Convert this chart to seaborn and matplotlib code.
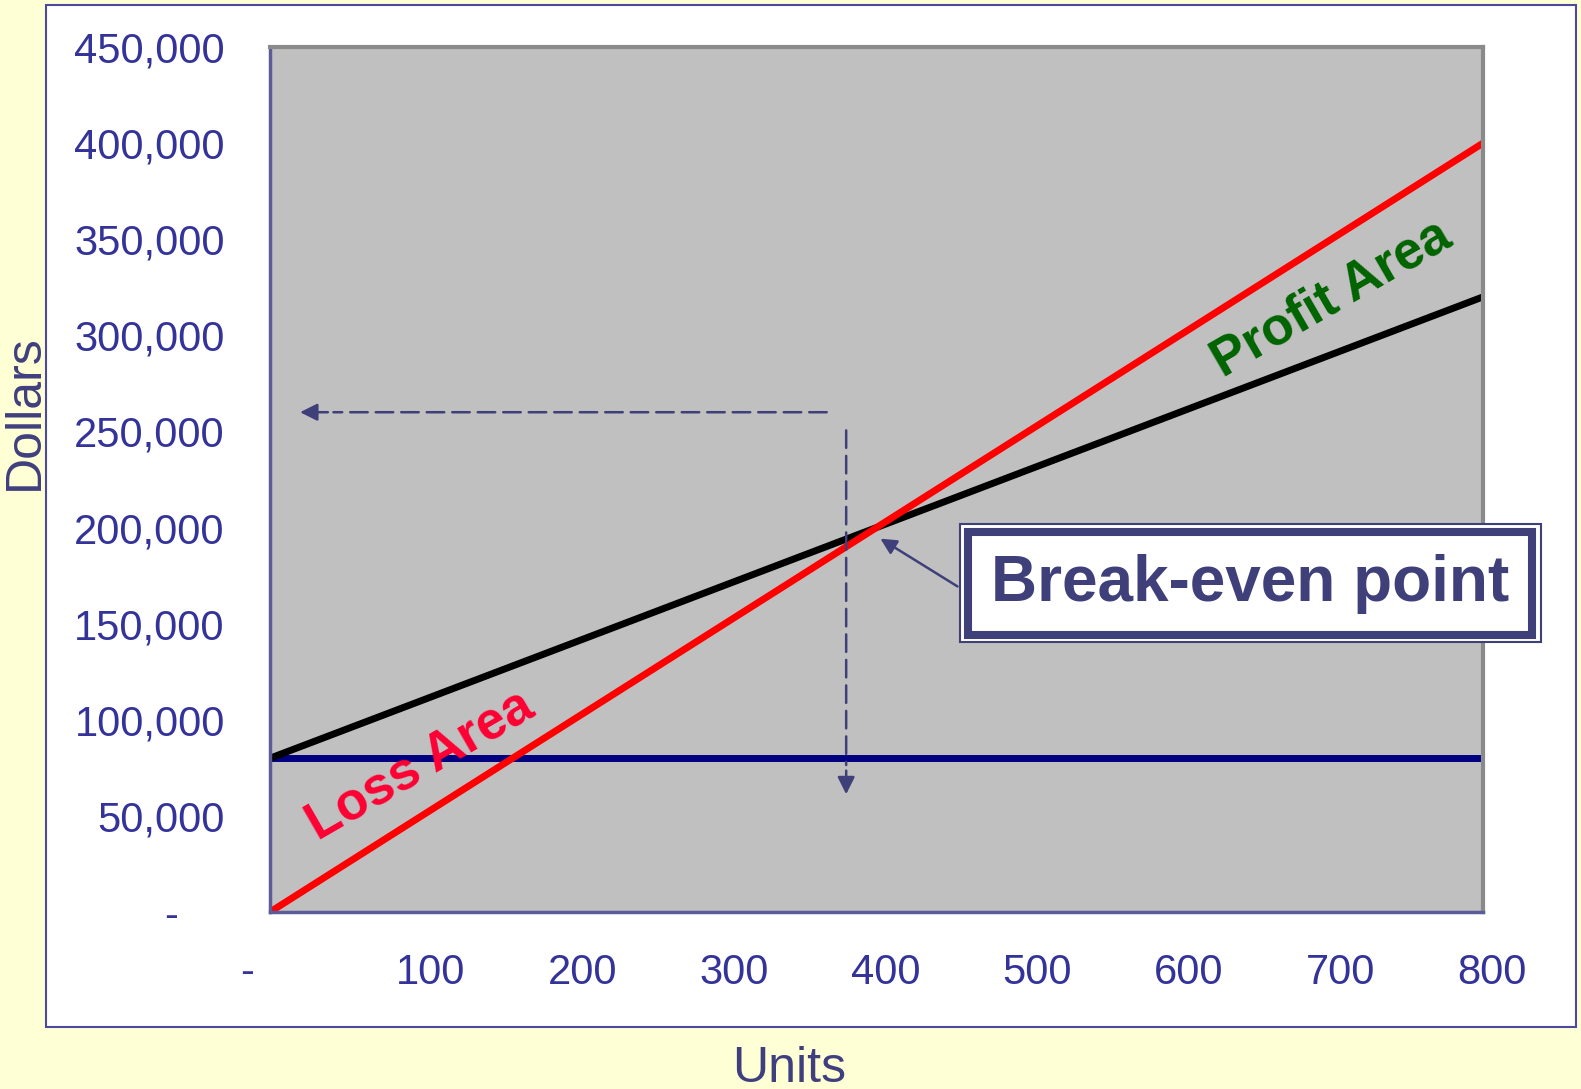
import matplotlib
matplotlib.use("Agg")
import matplotlib.pyplot as plt
import matplotlib.transforms as mtransforms
from matplotlib.patches import Rectangle
import pandas as pd
import seaborn as sns

# --- data ---
units = [0, 100, 200, 300, 400, 500, 600, 700, 800]
fixed_cost = [80000, 80000, 80000, 80000, 80000, 80000, 80000, 80000, 80000]
total_cost = [80000, 110000, 140000, 170000, 200000, 230000, 260000, 290000, 320000]
revenue = [0, 50000, 100000, 150000, 200000, 250000, 300000, 350000, 400000]

x_ticks = [0, 100, 200, 300, 400, 500, 600, 700, 800]
x_ticklabels = ["-", "100", "200", "300", "400", "500", "600", "700", "800"]
y_ticks = [0, 50000, 100000, 150000, 200000, 250000, 300000, 350000, 400000, 450000]
y_ticklabels = ["-", "50,000", "100,000", "150,000", "200,000", "250,000",
                "300,000", "350,000", "400,000", "450,000"]

df = pd.DataFrame({"Units": units, "Fixed": fixed_cost,
                   "Total": total_cost, "Revenue": revenue})

# --- style ---
sns.set_style("white")
plt.rcParams["font.family"] = ["Liberation Sans", "DejaVu Sans"]

tick_col = "#333399"
label_col = "#3F3F7F"
ann_col = "#3F3F7A"

fig = plt.figure(figsize=(15.81, 10.89), dpi=100, facecolor="#FFFFD6")

# white chart box
fig.add_artist(Rectangle((46 / 1581, 1 - 1027 / 1089), 1530 / 1581, 1022 / 1089,
                         transform=fig.transFigure, facecolor="white",
                         edgecolor="#4A4AA0", linewidth=1.5, zorder=0))

ax = fig.add_axes([270 / 1581, 1 - 912 / 1089, 1213 / 1581, 865 / 1089])
ax.set_facecolor("#C0C0C0")

sns.lineplot(data=df, x="Units", y="Fixed", ax=ax, color="#000080", linewidth=5)
sns.lineplot(data=df, x="Units", y="Total", ax=ax, color="black", linewidth=5,
             solid_capstyle="round")
sns.lineplot(data=df, x="Units", y="Revenue", ax=ax, color="#FF0000", linewidth=5,
             solid_capstyle="round")

ax.set_xlim(0, 800)
ax.set_ylim(0, 450000)
ax.set_xticks(x_ticks)
ax.set_xticklabels(x_ticklabels)
ax.set_yticks(y_ticks)
ax.set_yticklabels(y_ticklabels)
ax.set_xlabel("")
ax.set_ylabel("")
ax.tick_params(axis="both", direction="inout", length=17, width=1.2,
               color=tick_col, labelcolor=tick_col, labelsize=30)
ax.tick_params(axis="x", pad=21)
ax.tick_params(axis="y", pad=24)

for side in ["top", "right"]:
    ax.spines[side].set_color("#8A8A8A")
    ax.spines[side].set_linewidth(3)
for side in ["left", "bottom"]:
    ax.spines[side].set_color("#5C5C9A")
    ax.spines[side].set_linewidth(2.5)

# nudge tick labels like the original
for i, lab in enumerate(ax.get_xticklabels()):
    dx = -23 if i == 0 else 9
    lab.set_transform(lab.get_transform() +
                      mtransforms.ScaledTranslation(dx / 100, 0, fig.dpi_scale_trans))
ylab0 = ax.get_yticklabels()[0]
ylab0.set_transform(ylab0.get_transform() +
                    mtransforms.ScaledTranslation(-47 / 100, 0, fig.dpi_scale_trans))

# axis titles
fig.text(25 / 1581, 1 - 412 / 1089, "Dollars", rotation=90, ha="center", va="center",
         fontsize=36, color=label_col)
fig.text(789 / 1581, 1 - 1082 / 1089, "Units", ha="center", va="baseline",
         fontsize=36, color=label_col)

# dashed guide arrows
dash = (0, (7, 3.2))
ax.annotate("", xy=(40, 260000), xytext=(369, 260000),
            arrowprops=dict(arrowstyle="-", color=ann_col, lw=1.8, linestyle=dash))
ax.annotate("", xy=(18, 260000), xytext=(40, 260000),
            arrowprops=dict(arrowstyle="-|>", color=ann_col, lw=1.8, mutation_scale=26))
ax.annotate("", xy=(380, 75000), xytext=(380, 252000),
            arrowprops=dict(arrowstyle="-", color=ann_col, lw=1.8, linestyle=dash))
ax.annotate("", xy=(380, 59800), xytext=(380, 75000),
            arrowprops=dict(arrowstyle="-|>", color=ann_col, lw=1.8, mutation_scale=26))

# break-even pointer
ax.annotate("", xy=(401, 195000), xytext=(455, 168600),
            arrowprops=dict(arrowstyle="-|>", color=ann_col, lw=1.8, mutation_scale=24))

# area labels
ax.text(700, 319000, "Profit Area", rotation=30, rotation_mode="anchor",
        ha="center", va="center", fontsize=38, fontweight="bold", color="#006400")
ax.text(99, 76500, "Loss Area", rotation=30, rotation_mode="anchor",
        ha="center", va="center", fontsize=38, fontweight="bold", color="#FF0033")

# break-even box (double border)
fig.add_artist(Rectangle((960 / 1581, 1 - 642 / 1089), 581 / 1581, 118 / 1089,
                         transform=fig.transFigure, facecolor="white",
                         edgecolor=ann_col, linewidth=1.5, zorder=5))
fig.add_artist(Rectangle((968 / 1581, 1 - 634.5 / 1089), 564 / 1581, 103 / 1089,
                         transform=fig.transFigure, facecolor="white",
                         edgecolor=ann_col, linewidth=5.8, zorder=6))
fig.text(1250 / 1581, 1 - 584 / 1089, "Break-even point", ha="center", va="center",
         fontsize=46, fontweight="bold", color=ann_col, zorder=7)

fig.savefig("out.png", dpi=100, facecolor=fig.get_facecolor())
